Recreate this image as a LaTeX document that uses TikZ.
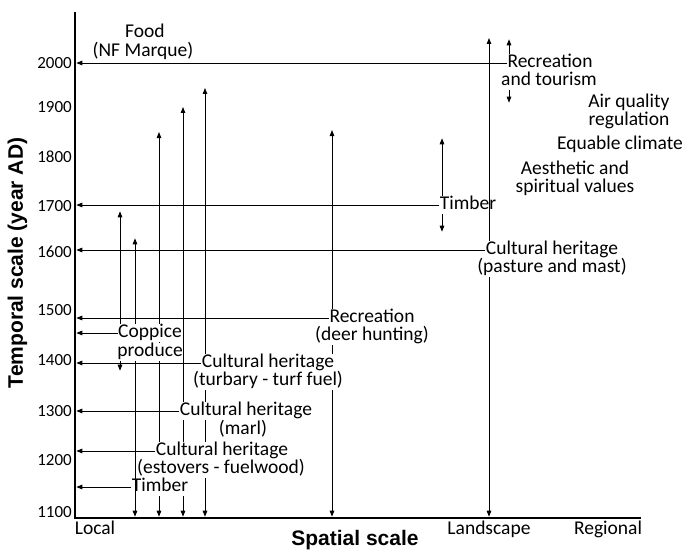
\documentclass[tikz,border=0pt]{standalone}
\usepackage{fontspec}
\setmainfont{Carlito}
\newfontfamily\axisfont{Liberation Sans}
\usetikzlibrary{calc}
\usetikzlibrary{arrows.meta}

\begin{document}
\begin{tikzpicture}[x=1pt, y=-1pt,
    txt/.style = {inner sep = .5pt, text height = 13pt, text depth = 4pt, font = \fontsize{19.5}{19.5}\selectfont},
    blank/.style = {txt, fill = white},
    yr/.style = {anchor = east, inner sep = 0, font = \fontsize{17}{17}\selectfont},
    ttl/.style = {inner sep = 0, font = \axisfont\bfseries\fontsize{21}{21}\selectfont},
    tip/.style = {-{Triangle[length = 6pt, width = 4.5pt]}, line width = .9pt, shorten > = 1.3pt},
    span/.style = {{Triangle[length = 6pt, width = 4.5pt]}-{Triangle[length = 6pt, width = 4.5pt]}, line width = .9pt, shorten < = 1.3pt}]

\useasboundingbox (0,0) rectangle (686,551);

% axes
\coordinate (o) at (75,518);
\coordinate (ytop) at (75,12);
\coordinate (xend) at (641,518);
\draw[line width = 2.6pt] (ytop) -- (o) -- (xend);

\foreach \yr/\py in {2000/63, 1900/107, 1800/157, 1700/206, 1600/252, 1500/310, 1400/360, 1300/411, 1200/460, 1100/512}
  \node[yr] (y\yr) at (72,\py) {\yr};

\node[txt] (loc) at (95,530) {Local};
\node[txt] (land) at (489,530) {Landscape};
\node[txt] (regn) at (608,530) {Regional};

\node[ttl] (spat) at (355,540) {Spatial scale};
\node[ttl, rotate = 90] (temp) at (17.5,263) {Temporal scale (year AD)};

% long spans, cut by the labels below
\foreach \px/\py in {159/132, 183/107, 205/88, 332/130, 489/38}{
  \coordinate (v\px) at (\px,\py);
  \draw[span] (v\px |- o) -- (v\px);
}

% labels
\node[txt] (food) at (145,33) {Food};
\node[txt] (nfm) at ($(food) + (-2,19)$) {(NF Marque)};

\node[txt] (rec) at (550,63) {Recreation};
\node[txt] (tour) at ($(rec) + (-1,18)$) {and tourism};

\node[txt] (air) at (629,103) {Air quality};
\node[txt] (reg) at ($(air) + (0,18)$) {regulation};
\node[txt] (equ) at (620,145) {Equable climate};
\node[txt] (aes) at (575,170) {Aesthetic and};
\node[txt] (spi) at ($(aes) + (0,18)$) {spiritual values};

\node[txt] (timtop) at (468,205) {Timber};

\node[blank] (past) at (552,250) {Cultural heritage};
\node[blank] (mast) at ($(past) + (0,18)$) {(pasture and mast)};

\node[blank] (deer) at (372,318) {Recreation};
\node[blank] (hunt) at ($(deer) + (0,18)$) {(deer hunting)};

\node[blank] (cop) at (150,333) {Coppice};
\node[blank] (prod) at ($(cop) + (0,18.5)$) {produce};

\node[blank] (turb) at (268,363) {Cultural heritage};
\node[blank] (turf) at ($(turb) + (0,18)$) {(turbary - turf fuel)};

\node[blank] (marl) at (246,411) {Cultural heritage};
\node[blank] (marl2) at ($(marl) + (-3,19)$) {(marl)};

\node[blank] (est) at (222,451) {Cultural heritage};
\node[blank] (fuel) at ($(est) + (-1,18)$) {(estovers - fuelwood)};

\node[blank] (timbot) at (160,487) {Timber};

% arrows to the time axis
\foreach \n in {rec, timtop, past, deer, cop, turb, marl, est, timbot}
  \draw[tip] (\n.west) -- (\n.west -| o);

% short arrows at the labels
\coordinate (recup) at (509,38);
\coordinate (recdn) at (509,104);
\draw[tip] (recup |- rec.north) -- (recup);
\draw[tip] (recdn |- tour.south) -- (recdn);

\coordinate (timup) at (442,137);
\coordinate (timdn) at (442,233);
\draw[tip] (timup |- timtop.north) -- (timup);
\draw[tip] (timdn |- timtop.south) -- (timdn);

\coordinate (cpa) at (120,210);
\coordinate (cpb) at (135,237);
\coordinate (cpc) at (120,372);
\draw[tip] (cpa |- cop.north) -- (cpa);
\draw[tip] (cpb |- cop.north) -- (cpb);
\draw[tip] (cpc |- prod.south) -- (cpc);
\draw[tip] (cpb |- prod.south) -- (cpb |- o);

\end{tikzpicture}
\end{document}
